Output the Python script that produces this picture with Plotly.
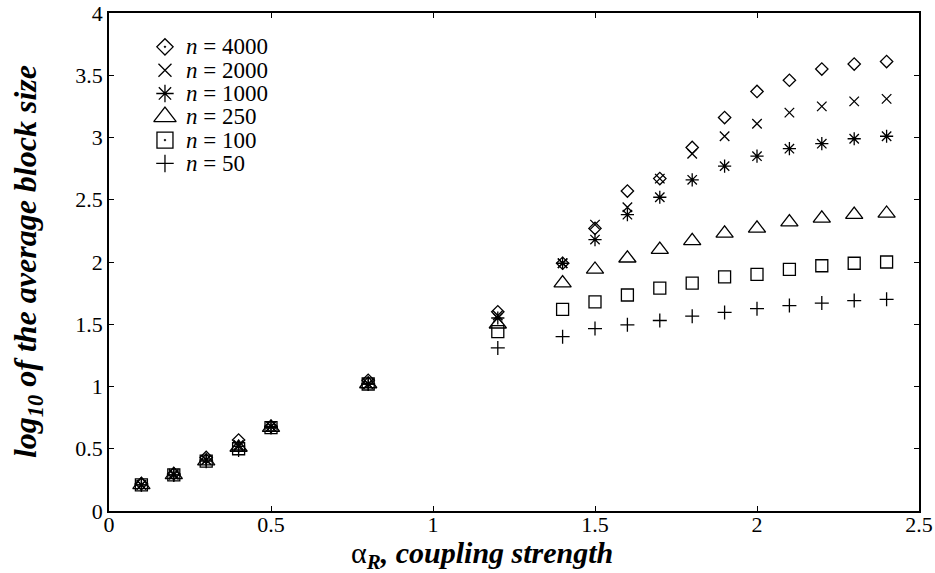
import plotly.graph_objects as go

# coupling strength values
alpha_r = [0.1, 0.2, 0.3, 0.4, 0.5, 0.8, 1.2, 1.4, 1.5, 1.6, 1.7, 1.8, 1.9, 2.0, 2.1, 2.2, 2.3, 2.4]

# log10 of the average block size for each system size n
n4000 = [0.22, 0.30, 0.43, 0.57, 0.68, 1.05, 1.60, 1.99, 2.27, 2.57, 2.67, 2.92, 3.16, 3.37, 3.46, 3.55, 3.59, 3.61]
n2000 = [0.21, 0.30, 0.41, 0.53, 0.68, 1.02, 1.57, 1.99, 2.30, 2.44, 2.67, 2.87, 3.01, 3.11, 3.20, 3.25, 3.29, 3.31]
n1000 = [0.21, 0.29, 0.41, 0.52, 0.68, 1.02, 1.55, 1.99, 2.18, 2.38, 2.52, 2.66, 2.77, 2.85, 2.91, 2.95, 2.99, 3.01]
n250 = [0.21, 0.29, 0.40, 0.51, 0.67, 1.02, 1.50, 1.83, 1.94, 2.03, 2.10, 2.17, 2.23, 2.27, 2.32, 2.35, 2.38, 2.39]
n100 = [0.21, 0.29, 0.40, 0.50, 0.67, 1.02, 1.44, 1.62, 1.68, 1.735, 1.79, 1.83, 1.88, 1.90, 1.94, 1.97, 1.99, 2.00]
n50 = [0.21, 0.29, 0.40, 0.49, 0.67, 1.02, 1.31, 1.40, 1.465, 1.495, 1.53, 1.565, 1.595, 1.625, 1.65, 1.67, 1.69, 1.70]

series_labels = ["4000", "2000", "1000", "250", "100", "50"]
series_values = [n4000, n2000, n1000, n250, n100, n50]

x_ticks = [0, 0.5, 1, 1.5, 2, 2.5]
x_ticklabels = ["0", "0.5", "1", "1.5", "2", "2.5"]
y_ticks = [0, 0.5, 1, 1.5, 2, 2.5, 3, 3.5, 4]
y_ticklabels = ["0", "0.5", "1", "1.5", "2", "2.5", "3", "3.5", "4"]

# (data symbol, data size, key symbol, key size)
symbols = [
    ("diamond-open", 9.5, "diamond-open-dot", 12.5),
    ("x-thin-open", 9.5, "x-thin-open", 13),
    ("asterisk-open", 11, "asterisk-open", 14.5),
    ("triangle-up-open", 15, "triangle-up-open", 19.5),
    ("square-open", 12, "square-open-dot", 16),
    ("cross-thin-open", 10, "cross-thin-open", 12.5),
]

FONT = "Liberation Serif"
LINE_W = 1.3

# key block placement (fractions of the plot area)
KEY_SYMBOL_X = 0.0691
KEY_TEXT_X = 0.0925
KEY_TOP = 0.932
KEY_STEP = 0.0468

fig = go.Figure()

for i, (label, vals, (sym, size, key_sym, key_size)) in enumerate(
        zip(series_labels, series_values, symbols)):
    fig.add_trace(go.Scatter(
        x=alpha_r, y=vals, mode="markers", showlegend=False, hoverinfo="x+y",
        marker=dict(symbol=sym, size=size, color="black",
                    line=dict(color="black", width=LINE_W)),
    ))
    row_y = KEY_TOP - KEY_STEP * i
    # key symbol, drawn on an overlay axis spanning the plot area
    fig.add_trace(go.Scatter(
        x=[KEY_SYMBOL_X], y=[row_y], xaxis="x2", yaxis="y2",
        mode="markers", showlegend=False, hoverinfo="skip",
        marker=dict(symbol=key_sym, size=key_size, color="black",
                    line=dict(color="black", width=LINE_W)),
    ))
    fig.add_annotation(
        x=KEY_TEXT_X, y=row_y, xref="paper", yref="paper",
        xanchor="left", yanchor="middle", showarrow=False,
        text=f"<i>n</i> = {label}",
        font=dict(family=FONT, size=23, color="black"),
    )

axis_common = dict(
    showline=True, linecolor="black", linewidth=1.5, mirror="ticks",
    ticks="inside", ticklen=5, tickwidth=1.2, tickcolor="black",
    showgrid=False, zeroline=False, automargin=False,
    tickfont=dict(family=FONT, size=22, color="black"),
)

fig.update_layout(
    width=935, height=573,
    margin=dict(l=109, r=16, t=13, b=62),
    paper_bgcolor="white", plot_bgcolor="white",
    font=dict(family=FONT, color="black"),
    showlegend=False,
    xaxis=dict(range=[0, 2.5], tickvals=x_ticks, ticktext=x_ticklabels,
               ticklabelstandoff=-7, **axis_common),
    yaxis=dict(range=[0, 4], tickvals=y_ticks, ticktext=y_ticklabels, **axis_common),
    xaxis2=dict(range=[0, 1], overlaying="x", visible=False, fixedrange=True),
    yaxis2=dict(range=[0, 1], overlaying="y", visible=False, fixedrange=True),
)

# axis titles
fig.add_annotation(
    x=0.4605, y=-0.088, xref="paper", yref="paper",
    xanchor="center", yanchor="middle", showarrow=False,
    text="α<sub><b><i>R</i></b></sub><b><i>, coupling strength</i></b>",
    font=dict(family=FONT, size=30, color="black"),
)
fig.add_annotation(
    x=-0.1012, y=0.5, xref="paper", yref="paper",
    xanchor="center", yanchor="middle", showarrow=False, textangle=-90,
    text="<b><i>log<sub>10</sub> of the average block size</i></b>",
    font=dict(family=FONT, size=32, color="black"),
)

fig.write_html("out.html")
